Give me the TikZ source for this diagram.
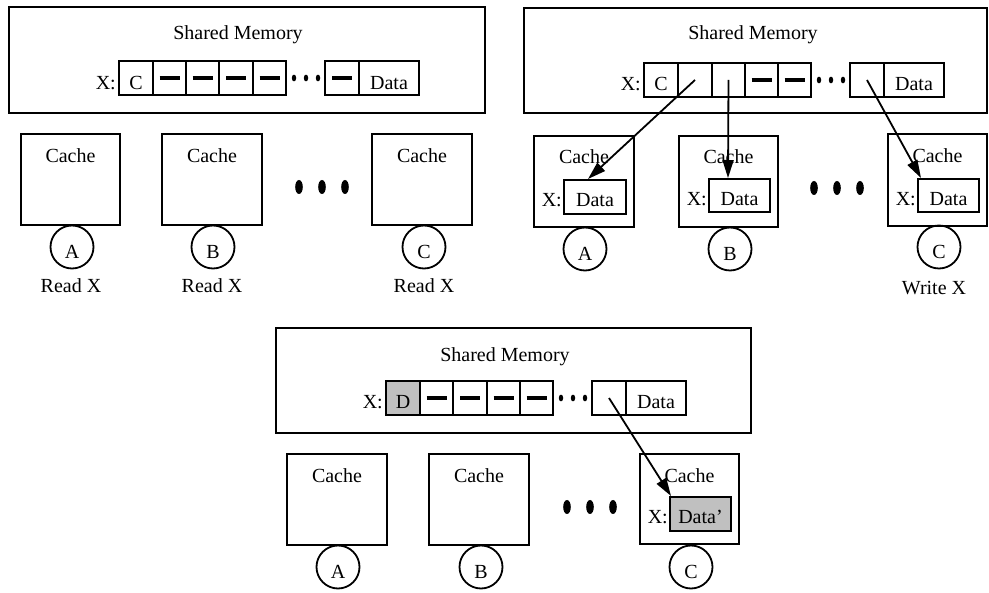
\documentclass[tikz,border=0pt]{standalone}
\usepackage{fontspec}
\setmainfont{Liberation Serif}
\usetikzlibrary{arrows.meta}
\definecolor{shade}{HTML}{C0C0C0}
\tikzset{
  bx/.style={draw, line width=2pt, rectangle, inner sep=0pt},
  txt/.style={font=\fontsize{20}{24}\selectfont, inner sep=0pt},
  bar/.style={line width=3.8pt},
  proc/.style={draw, circle, line width=1.8pt, minimum size=43pt, inner sep=0pt},
  arr/.style={line width=1.8pt, -{Triangle[length=18pt,width=11pt]}},
}
\newcommand\rnode[6]{%
  \pgfmathsetmacro\rnCX{(#3+#5)/2}%
  \pgfmathsetmacro\rnCY{(#4+#6)/2}%
  \pgfmathsetmacro\rnW{#5-#3}%
  \pgfmathsetmacro\rnH{#6-#4}%
  \node[bx,#2,minimum width=\rnW pt,minimum height=\rnH pt] (#1) at (\rnCX,\rnCY) {};}
\newcommand\cellbar[1]{\draw[bar] ([xshift=-10pt]#1.center) -- ([xshift=10pt]#1.center);}
\newcommand\smalldots[2]{%
  \foreach \dx in {0,12,24} {\fill ({#1+\dx},#2) ellipse (2.2pt and 3.4pt);}}
\newcommand\bigdots[2]{%
  \foreach \dx in {0,23,46} {\fill ({#1+\dx},#2) ellipse (3.8pt and 7pt);}}
\begin{document}
\begin{tikzpicture}[x=1pt,y=-1pt]
\useasboundingbox (0,0) rectangle (989,593);

% ================= Panel 1 =================
\rnode{m1}{}{9}{7}{485}{113}
\node[txt,anchor=base] (m1t) at (238,40) {Shared Memory};
\rnode{a1}{}{119}{61}{153}{95}
\rnode{a2}{}{153}{61}{186}{95}
\rnode{a3}{}{186}{61}{219}{95}
\rnode{a4}{}{219}{61}{253}{95}
\rnode{a5}{}{253}{61}{286}{95}
\rnode{a6}{}{325}{61}{359}{95}
\rnode{a7}{}{359}{61}{419}{95}
\node[txt,anchor=base east] (a1x) at (116,90) {X:};
\node[txt,anchor=base] (a1c) at (136,90) {C};
\node[txt,anchor=base] (a7t) at (389,90) {Data};
\cellbar{a2}\cellbar{a3}\cellbar{a4}\cellbar{a5}\cellbar{a6}
\smalldots{294}{78}

\rnode{cA1}{}{21}{134}{120}{225}
\rnode{cB1}{}{162}{134}{262}{225}
\rnode{cC1}{}{372}{134}{472}{225}
\node[txt,anchor=base] (cA1t) at (70.5,163) {Cache};
\node[txt,anchor=base] (cB1t) at (212,163) {Cache};
\node[txt,anchor=base] (cC1t) at (422,163) {Cache};
\node[proc] (pA1) at (72,247) {};
\node[proc] (pB1) at (213,247) {};
\node[proc] (pC1) at (424,247) {};
\node[txt,anchor=base] (pA1t) at (72,259) {A};
\node[txt,anchor=base] (pB1t) at (213,259) {B};
\node[txt,anchor=base] (pC1t) at (424,259) {C};
\node[txt,anchor=base] (rA1) at (71,293) {Read X};
\node[txt,anchor=base] (rB1) at (212,293) {Read X};
\node[txt,anchor=base] (rC1) at (424,293) {Read X};
\bigdots{299}{187}

% ================= Panel 2 =================
\rnode{m2}{}{524}{8}{987}{113}
\node[txt,anchor=base] (m2t) at (753,40) {Shared Memory};
\rnode{b1}{}{644}{63}{678}{97}
\rnode{b2}{}{678}{63}{712}{97}
\rnode{b3}{}{712}{63}{745}{97}
\rnode{b4}{}{745}{63}{778}{97}
\rnode{b5}{}{778}{63}{811}{97}
\rnode{b6}{}{850}{63}{884}{97}
\rnode{b7}{}{884}{63}{944}{97}
\node[txt,anchor=base east] (b1x) at (641,91) {X:};
\node[txt,anchor=base] (b1c) at (661,91) {C};
\node[txt,anchor=base] (b7t) at (914,91) {Data};
\cellbar{b4}\cellbar{b5}
\smalldots{819}{80}

\rnode{cA2}{}{534}{136}{634}{227}
\rnode{cB2}{}{679}{136}{778}{227}
\rnode{cC2}{}{888}{134}{987}{226}
\node[txt,anchor=base] (cA2t) at (584,164) {Cache};
\node[txt,anchor=base] (cB2t) at (728.5,164) {Cache};
\node[txt,anchor=base] (cC2t) at (937.5,163) {Cache};
\rnode{dA2}{}{564}{180}{626}{214}
\rnode{dB2}{}{709}{179}{770}{212}
\rnode{dC2}{}{918}{179}{979}{212}
\node[txt,anchor=base] (dA2t) at (595,207) {Data};
\node[txt,anchor=base] (dB2t) at (739.5,206) {Data};
\node[txt,anchor=base] (dC2t) at (948.5,206) {Data};
\node[txt,anchor=base east] (dA2x) at (562,207) {X:};
\node[txt,anchor=base east] (dB2x) at (707,206) {X:};
\node[txt,anchor=base east] (dC2x) at (916,206) {X:};
\node[proc] (pA2) at (585,249) {};
\node[proc] (pB2) at (730,249) {};
\node[proc] (pC2) at (939,247) {};
\node[txt,anchor=base] (pA2t) at (585,261) {A};
\node[txt,anchor=base] (pB2t) at (730,261) {B};
\node[txt,anchor=base] (pC2t) at (939,259) {C};
\node[txt,anchor=base] (wC2) at (934,295) {Write X};
\bigdots{814}{188}
\draw[arr] (b2.center) -- ([xshift=25pt]dA2.north west);
\draw[arr] (b3.center) -- ([xshift=20pt]dB2.north west);
\draw[arr] (b6.center) -- ([xshift=4pt]dC2.north west);

% ================= Panel 3 =================
\rnode{m3}{}{276}{328}{751}{433}
\node[txt,anchor=base] (m3t) at (505,362) {Shared Memory};
\rnode{e1}{fill=shade}{386}{381}{420}{415}
\rnode{e2}{}{420}{381}{453}{415}
\rnode{e3}{}{453}{381}{487}{415}
\rnode{e4}{}{487}{381}{520}{415}
\rnode{e5}{}{520}{381}{553}{415}
\rnode{e6}{}{592}{381}{626}{415}
\rnode{e7}{}{626}{381}{686}{415}
\node[txt,anchor=base east] (e1x) at (383,409) {X:};
\node[txt,anchor=base] (e1c) at (403,409) {D};
\node[txt,anchor=base] (e7t) at (656,409) {Data};
\cellbar{e2}\cellbar{e3}\cellbar{e4}\cellbar{e5}
\smalldots{561}{398}

\rnode{cA3}{}{287}{454}{387}{545}
\rnode{cB3}{}{429}{454}{529}{545}
\rnode{cC3}{}{640}{454}{739}{544}
\node[txt,anchor=base] (cA3t) at (337,483) {Cache};
\node[txt,anchor=base] (cB3t) at (479,483) {Cache};
\node[txt,anchor=base] (cC3t) at (689.5,483) {Cache};
\rnode{dC3}{fill=shade}{670}{497}{731}{531}
\node[txt,anchor=base] (dC3t) at (700.5,524) {Data'};
\node[txt,anchor=base east] (dC3x) at (668,524) {X:};
\node[proc] (pA3) at (338,567) {};
\node[proc] (pB3) at (481,567) {};
\node[proc] (pC3) at (691,567) {};
\node[txt,anchor=base] (pA3t) at (338,579) {A};
\node[txt,anchor=base] (pB3t) at (481,579) {B};
\node[txt,anchor=base] (pC3t) at (691,579) {C};
\bigdots{567}{507}
\draw[arr] (e6.center) -- ([xshift=2pt]dC3.north west);
\end{tikzpicture}
\end{document}
